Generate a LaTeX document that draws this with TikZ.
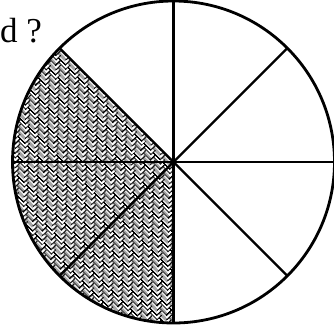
\documentclass[tikz,border=0pt]{standalone}
\usepackage{fontspec}
\setmainfont{Liberation Serif}
\usetikzlibrary{patterns.meta, positioning}

% woven fill of the shaded sectors
\def\wu{3.4pt}
\pgfdeclarepattern{
  name=weave,
  type=uncolored,
  bottom left={\pgfpointorigin},
  top right={\pgfpoint{4*\wu}{4*\wu}},
  tile size={\pgfpoint{4*\wu}{4*\wu}},
  tile transformation={\pgftransformrotate{45}},
  code={
    \pgfsetlinewidth{1.2pt}
    \foreach \k in {-5,...,5}{
      \foreach \m in {-3,...,3}{
        \pgfmathsetmacro\xx{\k+4*\m}
        \pgfpathmoveto{\pgfpoint{\xx*\wu}{\k*\wu}}
        \pgfpathlineto{\pgfpoint{(\xx+2)*\wu}{\k*\wu}}
        \pgfpathlineto{\pgfpoint{(\xx+2)*\wu}{(\k+1)*\wu}}
        \pgfpathlineto{\pgfpoint{(\xx+1)*\wu}{(\k+1)*\wu}}
        \pgfpathlineto{\pgfpoint{(\xx+1)*\wu}{(\k+3)*\wu}}
        \pgfpathlineto{\pgfpoint{\xx*\wu}{(\k+3)*\wu}}
        \pgfpathclose
      }
    }
    \pgfusepath{stroke}
  }
}

\begin{document}
\begin{tikzpicture}[x=1pt, y=1pt]
  \useasboundingbox (0,0) rectangle (334,-327);

  \coordinate (ctr) at (173.5,-162);
  \def\rad{161}

  % shaded part: 3 of 8
  \fill[pattern={weave}, pattern color=black] (ctr) -- ++(135:\rad) arc[start angle=135, end angle=270, radius=\rad] -- cycle;

  % spokes
  \foreach \a in {0,45,...,315}
    \draw[line width=2.4pt] (ctr) -- ++(\a:\rad);

  \draw[line width=2.8pt] (ctr) circle[radius=\rad];

  \node[anchor=base west, inner sep=0pt, font=\fontsize{35}{40}\selectfont] (qtxt) at (0,-42) {d ?};
\end{tikzpicture}
\end{document}
